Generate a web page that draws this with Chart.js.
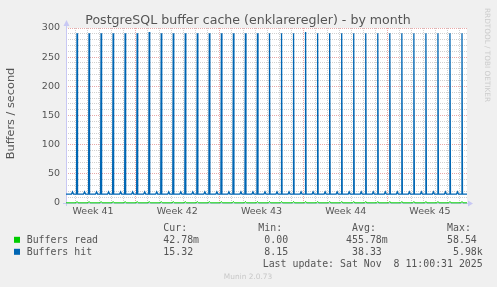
<!DOCTYPE html>
<html><head><meta charset="utf-8">
<script src="https://cdn.jsdelivr.net/npm/chart.js@4/dist/chart.umd.min.js"></script>
<style>html,body{margin:0;padding:0;background:#f0f0f0;}#wrap{width:497px;height:287px;position:relative;}</style>
</head><body><div id="wrap"><canvas id="c" width="497" height="287"></canvas></div>
<script>
// ---- data (x in hours since graph start, window = 800 h) ----
const chartTitle = 'PostgreSQL buffer cache (enklareregler) - by month';
const yAxisTitle = 'Buffers / second';
const seriesNames = ['Buffers read', 'Buffers hit'];
const seriesColors = ['#00cc00', '#0066b3'];
const xRange = [0, 800];
const yTicks = [0, 50, 100, 150, 200, 250, 300];
const dayLineHours = [18,42,66,90,114,138,162,186,210,234,258,282,306,330,354,378,402,426,450,474,498,522,546,570,594,618,642,666,690,714,738,762,786];
const weekLineHours = [138, 306, 474, 642];
const weekLabels = ['Week 41', 'Week 42', 'Week 43', 'Week 44', 'Week 45'];
const weekLabelHours = [54, 222, 390, 558, 726];
// daily spike times and values
const spikeHours = [22,46,70,94,118,142,166,190,214,238,262,286,310,334,358,382,406,430,454,478,502,526,550,574,598,622,646,670,694,718,742,766,790];
const hitPeak  = [291,291,291,291,291,291,293,291,291,291,291,291,291,291,291,291,291,291,291,293,291,291,291,291,291,291,291,291,291,291,291,291,291];
const hitBump  = [19,19,19,19,19,19,19,19,19,19,19,19,19,19,19,19,19,19,19,19,19,19,19,19,19,19,19,19,19,19,19,19,19];
const hitBase  = [15.3,15.3,15.3,15.3,15.3,15.3,15.3,15.3,15.3,15.3,15.3,15.3,15.3,15.3,15.3,15.3,15.3,15.3,15.3,15.3,15.3,15.3,15.3,15.3,15.3,15.3,15.3,15.3,15.3,15.3,15.3,15.3,15.3];
const readPeak = [2.5,2.5,2.5,2.5,2.5,2.5,2.5,2.5,2.5,2.5,2.5,2.5,2.5,2.5,2.5,2.5,2.5,2.5,2.5,2.5,2.5,2.5,2.5,2.5,2.5,2.5,2.5,2.5,2.5,2.5,2.5,2.5,2.5];
const readBase = [0.3,0.3,0.3,0.3,0.3,0.3,0.3,0.3,0.3,0.3,0.3,0.3,0.3,0.3,0.3,0.3,0.3,0.3,0.3,0.3,0.3,0.3,0.3,0.3,0.3,0.3,0.3,0.3,0.3,0.3,0.3,0.3,0.3];
const statHeaders = ['Cur:', 'Min:', 'Avg:', 'Max:'];
const readStats = ['42.78m', '0.00', '455.78m', '58.54'];
const hitStats  = ['15.32', '8.15', '38.33', '5.98k'];
const lastUpdate = 'Last update: Sat Nov  8 11:00:31 2025';
const footer = 'Munin 2.0.73';
const sideText = 'RRDTOOL / TOBI OETIKER';

// ---- build point lists from arrays ----
const hitPts = [{x: xRange[0], y: hitBase[0]}];
const readPts = [{x: xRange[0], y: readBase[0]}];
spikeHours.forEach((h, i) => {
  hitPts.push({x: h - 11, y: hitBase[i]}, {x: h - 9, y: hitBump[i]}, {x: h - 7, y: hitBase[i]},
              {x: h - 1, y: hitBase[i]}, {x: h, y: hitPeak[i]}, {x: h + 1, y: hitBase[i]});
  readPts.push({x: h - 2, y: readBase[i]}, {x: h, y: readPeak[i]}, {x: h + 2, y: readBase[i]});
});
hitPts.push({x: xRange[1], y: hitBase[hitBase.length - 1]});
readPts.push({x: xRange[1], y: readBase[readBase.length - 1]});

const GRID = '#d0d0d0', MGRID = '#e8a8a8', AXIS = '#c8c8f4', FONT = '#555555';

const deco = {
  id: 'deco',
  beforeDraw(chart) {
    const {ctx, chartArea: a} = chart;
    ctx.save();
    ctx.fillStyle = '#f0f0f0';
    ctx.fillRect(0, 0, chart.width, chart.height);
    ctx.fillStyle = '#ffffff';
    ctx.fillRect(a.left, a.top, a.right - a.left, a.bottom - a.top);
    ctx.restore();
  },
  beforeDatasetsDraw(chart) {
    const {ctx, chartArea: a} = chart;
    ctx.save();
    ctx.strokeStyle = AXIS; ctx.fillStyle = AXIS; ctx.lineWidth = 1;
    ctx.beginPath();
    ctx.moveTo(a.left + 0.5, a.bottom + 3); ctx.lineTo(a.left + 0.5, a.top - 4);
    ctx.moveTo(a.left - 3, a.bottom + 0.5); ctx.lineTo(a.right + 2, a.bottom + 0.5);
    ctx.stroke();
    ctx.beginPath();
    ctx.moveTo(a.left + 0.5, a.top - 8); ctx.lineTo(a.left - 2.5, a.top - 2); ctx.lineTo(a.left + 3.5, a.top - 2); ctx.closePath(); ctx.fill();
    ctx.beginPath();
    ctx.moveTo(a.right + 6, a.bottom + 0.5); ctx.lineTo(a.right + 1, a.bottom - 2.5); ctx.lineTo(a.right + 1, a.bottom + 3.5); ctx.closePath(); ctx.fill();
    ctx.restore();
  },
  afterDraw(chart) {
    const {ctx, chartArea: a} = chart;
    ctx.save();
    ctx.fillStyle = FONT;
    ctx.textAlign = 'center'; ctx.textBaseline = 'alphabetic';
    ctx.font = '12.6px "DejaVu Sans"';
    ctx.fillText(chartTitle, 248, 24);
    // y axis title
    ctx.save();
    ctx.translate(14, (a.top + a.bottom) / 2 - 2);
    ctx.rotate(-Math.PI / 2);
    ctx.font = '11.3px "DejaVu Sans"';
    ctx.fillText(yAxisTitle, 0, 0);
    ctx.restore();
    // side text
    ctx.save();
    ctx.translate(485, 8);
    ctx.rotate(Math.PI / 2);
    ctx.fillStyle = '#cccccc';
    ctx.textAlign = 'left';
    ctx.font = '7.3px "DejaVu Sans"';
    ctx.fillText(sideText, 0, 0);
    ctx.restore();
    // legend
    const cw = 5.95;
    const colX = [157.4, 252.4, 346.1, 441.1];
    ctx.font = '9.9px "DejaVu Sans Mono"';
    ctx.textAlign = 'left';
    statHeaders.forEach((h, i) => ctx.fillText(h, colX[i] + cw, 231));
    const fmt = s => {
      const m = s.match(/^([0-9.]+)([a-zA-Z]?)$/);
      return m[1].padStart(6, ' ') + (m[2] || ' ');
    };
    const rows = [[readStats, 243.3], [hitStats, 255.3]];
    rows.forEach(([stats, y], r) => {
      ctx.fillStyle = seriesColors[r];
      ctx.fillRect(14, y - 6.5, 6, 6);
      ctx.fillStyle = FONT;
      ctx.fillText(seriesNames[r], 26.7, y);
      stats.forEach((s, i) => ctx.fillText(fmt(s), colX[i], y));
    });
    ctx.textAlign = 'right';
    ctx.fillText(lastUpdate, 482.7, 267.3);
    ctx.textAlign = 'center';
    ctx.fillStyle = '#c8c8c8';
    ctx.font = '7.4px "DejaVu Sans"';
    ctx.fillText(footer, 248, 279);
    ctx.restore();
  }
};

new Chart(document.getElementById('c'), {
  type: 'line',
  data: {
    datasets: [
      {label: seriesNames[0], data: readPts, borderColor: seriesColors[0], borderWidth: 1, pointRadius: 0, tension: 0, clip: 4},
      {label: seriesNames[1], data: hitPts, borderColor: seriesColors[1], borderWidth: 1.3, pointRadius: 0, tension: 0, clip: 4}
    ]
  },
  options: {
    responsive: false, animation: false, events: [],
    layout: {padding: {top: 28, right: 30, left: 0, bottom: 0}},
    plugins: {legend: {display: false}, tooltip: {enabled: false}, title: {display: false}},
    scales: {
      x: {
        type: 'linear', min: xRange[0], max: xRange[1],
        afterFit: s => { s.height = 84; },
        afterBuildTicks: s => { s.ticks = [...dayLineHours, ...weekLabelHours].sort((p, q) => p - q).map(v => ({value: v})); },
        grid: {
          drawTicks: false, lineWidth: 1,
          color: c => weekLineHours.includes(c.tick.value) ? MGRID : (dayLineHours.includes(c.tick.value) ? GRID : 'rgba(0,0,0,0)')
        },
        border: {display: false, dash: [1, 1]},
        ticks: {
          autoSkip: false, maxRotation: 0, padding: 3, color: FONT,
          font: {family: 'DejaVu Sans', size: 9.5},
          callback: v => { const k = weekLabelHours.indexOf(v); return k >= 0 ? weekLabels[k] : ''; }
        }
      },
      y: {
        min: yTicks[0], max: yTicks[yTicks.length - 1],
        afterFit: s => { s.width = 66; },
        grid: {drawTicks: false, lineWidth: 1, color: c => (c.tick.value % 50 === 0 ? MGRID : GRID)},
        border: {display: false, dash: [1, 1]},
        ticks: {
          stepSize: 10, padding: 6, color: FONT, autoSkip: false,
          font: {family: 'DejaVu Sans', size: 9.5},
          callback: v => (yTicks.includes(v) ? String(v) : '')
        }
      }
    }
  },
  plugins: [deco]
});
</script></body></html>
